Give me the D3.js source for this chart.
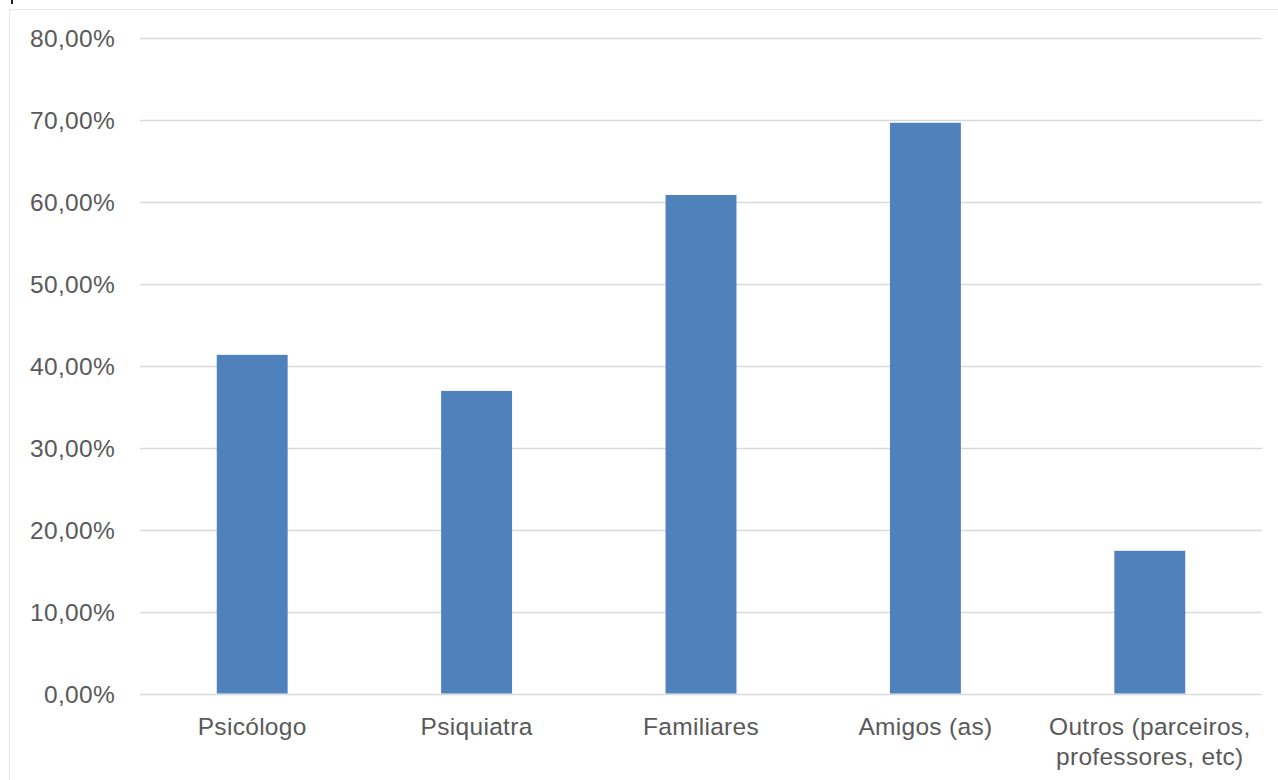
<!DOCTYPE html>
<html>
<head>
<meta charset="utf-8">
<script src="https://cdn.jsdelivr.net/npm/d3@7"></script>
<style>
  html, body { margin: 0; padding: 0; background: #fff; }
  svg { display: block; }
  text { font-family: "Liberation Sans", Arial, sans-serif; fill: #595959; }
</style>
</head>
<body>
<svg id="chart" width="1278" height="780"></svg>
<script>
// Categories and shares (percent)
const categories = ["Psicólogo", "Psiquiatra", "Familiares", "Amigos (as)", "Outros (parceiros,\nprofessores, etc)"];
const values = [41.3, 36.9, 60.8, 69.6, 17.4];
const yTicks = [0, 10, 20, 30, 40, 50, 60, 70, 80];

const svg = d3.select("#chart");
const W = 1278, H = 780;
const margin = { left: 140, right: 16, top: 37.5, bottom: 86.5 };
const fontSize = 24.5;

// Chart area frame
svg.append("path")
  .attr("d", `M9.5,${H} V9.5 H${W}`)
  .attr("fill", "none")
  .attr("stroke", "#e6e6e6")
  .attr("stroke-width", 1);
svg.append("line")
  .attr("x1", 12).attr("x2", 12).attr("y1", 0).attr("y2", 4)
  .attr("stroke", "#222").attr("stroke-width", 2);

const x = d3.scaleBand()
  .domain(categories)
  .range([margin.left, W - margin.right])
  .paddingInner(0.684)
  .paddingOuter(0.342);

const y = d3.scaleLinear()
  .domain([0, 80])
  .range([H - margin.bottom, margin.top]);

// Horizontal gridlines
svg.append("g")
  .selectAll("line")
  .data(yTicks)
  .join("line")
  .attr("x1", margin.left)
  .attr("x2", W - margin.right)
  .attr("y1", d => Math.round(y(d)) + 0.5)
  .attr("y2", d => Math.round(y(d)) + 0.5)
  .attr("stroke", "#d9d9d9")
  .attr("stroke-width", 1.5);

// Y axis labels
const fmt = d => d.toFixed(2).replace(".", ",") + "%";
const yAxis = d3.axisLeft(y).tickValues(yTicks).tickFormat(fmt).tickSize(0).tickPadding(0);
const gy = svg.append("g")
  .attr("transform", `translate(115,0)`)
  .call(yAxis);
gy.select(".domain").remove();
gy.selectAll("text")
  .attr("font-size", fontSize)
  .attr("font-family", "Liberation Sans, Arial, sans-serif")
  .attr("fill", "#595959")
  .attr("letter-spacing", 0.3)
  .attr("dy", "0.36em");

// Bars
svg.append("g")
  .selectAll("rect")
  .data(values)
  .join("rect")
  .attr("x", (d, i) => x(categories[i]))
  .attr("width", x.bandwidth())
  .attr("y", d => y(d))
  .attr("height", d => y(0) - y(d))
  .attr("fill", "#4f81bd");

// X axis category labels (multi-line)
const gx = svg.append("g");
categories.forEach(c => {
  const lines = c.split("\n");
  const t = gx.append("text")
    .attr("x", x(c) + x.bandwidth() / 2)
    .attr("y", 735)
    .attr("text-anchor", "middle")
    .attr("letter-spacing", 0.3)
    .attr("font-size", fontSize);
  lines.forEach((ln, k) => {
    t.append("tspan")
      .attr("x", x(c) + x.bandwidth() / 2)
      .attr("dy", k === 0 ? 0 : 30)
      .text(ln);
  });
});
</script>
</body>
</html>
